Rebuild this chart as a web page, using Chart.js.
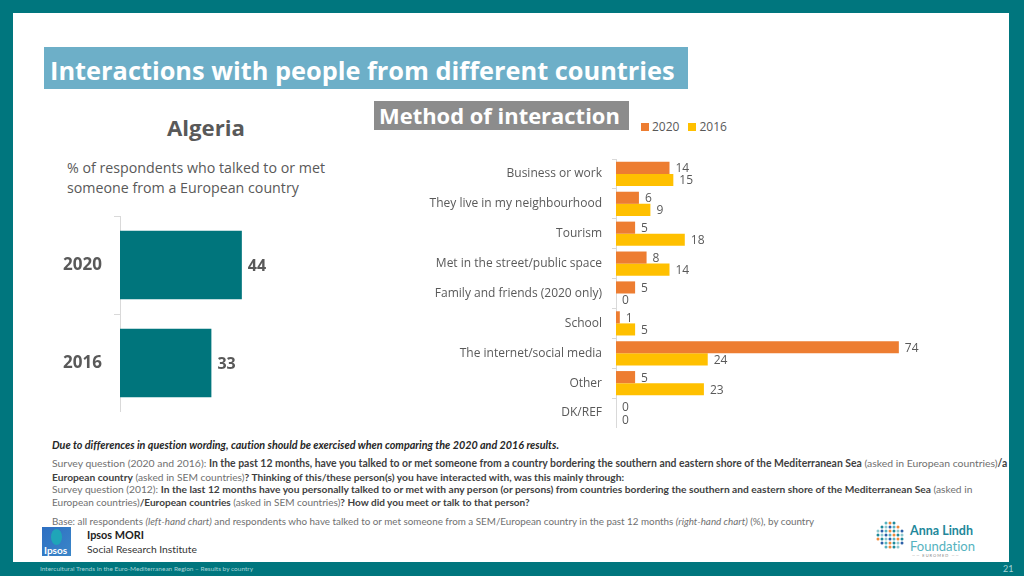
<!DOCTYPE html>
<html>
<head>
<meta charset="utf-8">
<script src="https://cdn.jsdelivr.net/npm/chart.js@4/dist/chart.umd.min.js"></script>
<style>
  html, body { margin:0; padding:0; }
  body { width:1024px; height:576px; position:relative; overflow:hidden; background:#00767E; font-family:"Lato","Open Sans",sans-serif; font-variant-ligatures:none; }
  .abs { position:absolute; white-space:nowrap; }
  #inner { left:13px; top:13px; width:996px; height:549px; background:#fff; }
  #titlebar { left:44px; top:47px; width:644px; height:42px; background:#6DAFC8; }
  #titletext { left:50px; top:49px; color:#fff; font-weight:bold; font-size:24px; line-height:42px; font-family:"Open Sans",sans-serif; }
  #methodbox { left:374px; top:101px; width:255px; height:29px; background:#8C8C8C; }
  #methodtext { left:379px; top:101px; color:#fff; font-weight:bold; font-size:21px; line-height:29px; font-family:"Open Sans",sans-serif; }
  #country { left:167px; top:113px; font-size:22px; font-weight:bold; color:#595959; line-height:30px; font-family:"Open Sans",sans-serif; }
  #lefttext { left:67px; top:158px; font-size:15px; color:#595959; line-height:20px; font-family:"Open Sans",sans-serif; }
  #legend { left:641px; top:119px; font-size:12px; color:#595959; font-family:"Open Sans",sans-serif; line-height:16px; }
  #legend span.sw { display:inline-block; width:8px; height:8px; margin-right:3px; vertical-align:0px; }
  #legend span.it { margin-right:9px; }
  .foot { left:52px; font-size:10px; color:#707070; line-height:12px; }
  .foot b { color:#3F3F3F; }
  #caution { left:52px; top:439px; font-size:10px; color:#262626; font-weight:bold; font-style:italic; line-height:12px; }
  #ipsosbox { left:42px; top:527px; width:29px; height:29px; background:linear-gradient(135deg,#2E6FC2,#3A86C8); overflow:hidden; }
  #ipsosbox .shape { position:absolute; left:9px; top:2px; width:11px; height:16px; border-radius:50%; background:#1FA5B8; }
  #ipsosbox .txt { position:absolute; left:2px; top:17px; font-size:10px; color:#fff; font-weight:bold; }
  #ipsos1 { left:87px; top:527px; font-size:12px; font-weight:bold; color:#222; line-height:16px; }
  #ipsos2 { left:87px; top:541px; font-size:12px; color:#333; line-height:16px; }
  #anna1 { left:910px; top:522px; font-size:16px; font-weight:bold; color:#22879A; line-height:18px; }
  #anna2 { left:910px; top:537px; font-size:16px; color:#56B3C0; line-height:18px; }
  #anna3 { left:912px; top:553px; font-size:4px; color:#888; letter-spacing:1px; }
  #strip { left:40px; top:564px; font-size:7px; color:#A6D3D6; line-height:9px; }
  #page { left:1003px; top:563px; font-size:9px; color:#A6D3D6; }
  canvas { position:absolute; }
</style>
</head>
<body>
<div id="inner" class="abs"></div>
<div id="titlebar" class="abs"></div>
<div id="titletext" class="abs" data-w="625">Interactions with people from different countries</div>
<div id="methodbox" class="abs"></div>
<div id="methodtext" class="abs" data-w="241">Method of interaction</div>
<div id="country" class="abs" data-w="78">Algeria</div>
<div id="lefttext" class="abs" data-w="258">% of respondents who talked to or met<br>someone from a European country</div>
<div id="legend" class="abs"></div>

<canvas id="leftChart" width="260" height="196" style="left:40px; top:216px;"></canvas>
<canvas id="rightChart" width="560" height="269" style="left:400px; top:159px;"></canvas>

<div id="caution" class="abs" data-w="507">Due to differences in question wording, caution should be exercised when comparing the 2020 and 2016 results.</div>
<div class="abs foot" style="top:457px;" data-w="956">Survey question (2020 and 2016): <b>In the past 12 months, have you talked to or met someone from a country bordering the southern and eastern shore of the Mediterranean Sea</b> (asked in European countries)<b>/a</b></div>
<div class="abs foot" style="top:471px;" data-w="572"><b>European country</b> (asked in SEM countries)<b>? Thinking of this/these person(s) you have interacted with, was this mainly through:</b></div>
<div class="abs foot" style="top:483px;" data-w="921">Survey question (2012): <b>In the last 12 months have you personally talked to or met with any person (or persons) from countries bordering the southern and eastern shore of the Mediterranean Sea</b> (asked in</div>
<div class="abs foot" style="top:496px;" data-w="478">European countries)<b>/European countries</b> (asked in SEM countries)<b>? How did you meet or talk to that person?</b></div>
<div class="abs foot" style="top:515px;" data-w="763">Base: all respondents <i>(left-hand chart)</i> and respondents who have talked to or met someone from a SEM/European country in the past 12 months <i>(right-hand chart)</i> (%), by country</div>

<div id="ipsosbox" class="abs"><div class="shape"></div><div class="txt">Ipsos</div></div>
<div id="ipsos1" class="abs" data-w="57">Ipsos MORI</div>
<div id="ipsos2" class="abs" data-w="110">Social Research Institute</div>

<svg class="abs" style="left:876px; top:521px;" width="30" height="30" id="dots"></svg>
<div id="anna1" class="abs" data-w="63">Anna Lindh</div>
<div id="anna2" class="abs" data-w="65">Foundation</div>
<div id="anna3" class="abs">—— EUROMED ——</div>

<div id="strip" class="abs" data-w="213">Intercultural Trends in the Euro-Mediterranean Region – Results by country</div>
<div id="page" class="abs">21</div>

<script>
// ---- Data ----
const leftCategories = ['2020', '2016'];
const leftValues = [44, 33];

const methodCategories = [
  'Business or work',
  'They live in my neighbourhood',
  'Tourism',
  'Met in the street/public space',
  'Family and friends (2020 only)',
  'School',
  'The internet/social media',
  'Other',
  'DK/REF'
];
const seriesLabels = ['2020', '2016'];
const values2020 = [14, 6, 5, 8, 5, 1, 74, 5, 0];
const values2016 = [15, 9, 18, 14, 0, 5, 24, 23, 0];

// ---- Styles ----
const GRAY = '#595959';
const AXIS = '#D9D9D9';
const TEAL = '#00757C';
const ORANGE = '#ED7D31';
const YELLOW = '#FFC000';

// fit text widths to the layout
document.querySelectorAll('[data-w]').forEach(el => {
  const target = parseFloat(el.getAttribute('data-w'));
  const cur = el.getBoundingClientRect().width;
  const fs = parseFloat(getComputedStyle(el).fontSize);
  if (cur > 0) el.style.fontSize = (fs * target / cur).toFixed(2) + 'px';
});

const valueLabels = {
  id: 'valueLabels',
  afterDatasetsDraw(chart, args, opts) {
    const ctx = chart.ctx;
    ctx.save();
    ctx.font = opts.font;
    ctx.fillStyle = opts.color;
    ctx.textBaseline = 'middle';
    ctx.textAlign = 'left';
    chart.data.datasets.forEach((ds, i) => {
      const meta = chart.getDatasetMeta(i);
      meta.data.forEach((el, j) => {
        ctx.fillText(String(ds.data[j]), el.x + opts.offset, el.y + 1);
      });
    });
    ctx.restore();
  }
};

function yAxis(width, fontSize, bold, tickLen, pad) {
  return {
    grid: { drawOnChartArea: false, drawTicks: true, tickLength: tickLen, color: AXIS, offset: true },
    border: { color: AXIS },
    ticks: { font: { family: '"Open Sans", sans-serif', size: fontSize, weight: bold ? 'bold' : 'normal' }, color: GRAY, padding: pad },
    afterFit: s => { s.width = width; s.paddingTop = 0; s.paddingBottom = 0; }
  };
}

new Chart(document.getElementById('leftChart'), {
  type: 'bar',
  data: {
    labels: leftCategories,
    datasets: [{ data: leftValues, backgroundColor: TEAL, barPercentage: 1, categoryPercentage: 0.7 }]
  },
  options: {
    responsive: false,
    animation: false,
    indexAxis: 'y',
    layout: { padding: 0 },
    plugins: {
      legend: { display: false },
      tooltip: { enabled: false },
      valueLabels: { font: 'bold 16px "Open Sans", sans-serif', color: GRAY, offset: 6 }
    },
    scales: {
      x: { display: false, min: 0, max: 65 },
      y: yAxis(80, 17, true, 6, 12)
    }
  },
  plugins: [valueLabels]
});

new Chart(document.getElementById('rightChart'), {
  type: 'bar',
  data: {
    labels: methodCategories,
    datasets: [
      { label: seriesLabels[0], data: values2020, backgroundColor: ORANGE, barPercentage: 1, categoryPercentage: 0.81 },
      { label: seriesLabels[1], data: values2016, backgroundColor: YELLOW, barPercentage: 1, categoryPercentage: 0.81 }
    ]
  },
  options: {
    responsive: false,
    animation: false,
    indexAxis: 'y',
    layout: { padding: 0 },
    plugins: {
      legend: { display: false },
      tooltip: { enabled: false },
      valueLabels: { font: '12px "Open Sans", sans-serif', color: GRAY, offset: 6 }
    },
    scales: {
      x: { display: false, min: 0, max: 90 },
      y: yAxis(216, 12, false, 4, 10)
    }
  },
  plugins: [valueLabels]
});

// HTML legend from the dataset labels/colours
const legend = document.getElementById('legend');
[[seriesLabels[0], ORANGE], [seriesLabels[1], YELLOW]].forEach(([lab, col]) => {
  const s = document.createElement('span');
  s.className = 'it';
  s.innerHTML = '<span class="sw" style="background:' + col + '"></span>' + lab;
  legend.appendChild(s);
});

// decorative dot logo
const svg = document.getElementById('dots');
const cols = ['#1F8A9A', '#F08A3C', '#56B3C0', '#2B5FA8', '#8CC8CF'];
let k = 0;
for (let y = 2; y < 30; y += 4) {
  for (let x = 2; x < 30; x += 4) {
    const dx = x - 15, dy = y - 15;
    if (dx * dx + dy * dy <= 196) {
      const c = document.createElementNS('http://www.w3.org/2000/svg', 'circle');
      c.setAttribute('cx', x); c.setAttribute('cy', y); c.setAttribute('r', 1.5);
      c.setAttribute('fill', cols[(k * 3 + (x >> 2)) % cols.length]);
      svg.appendChild(c);
      k++;
    }
  }
}
</script>
</body>
</html>
